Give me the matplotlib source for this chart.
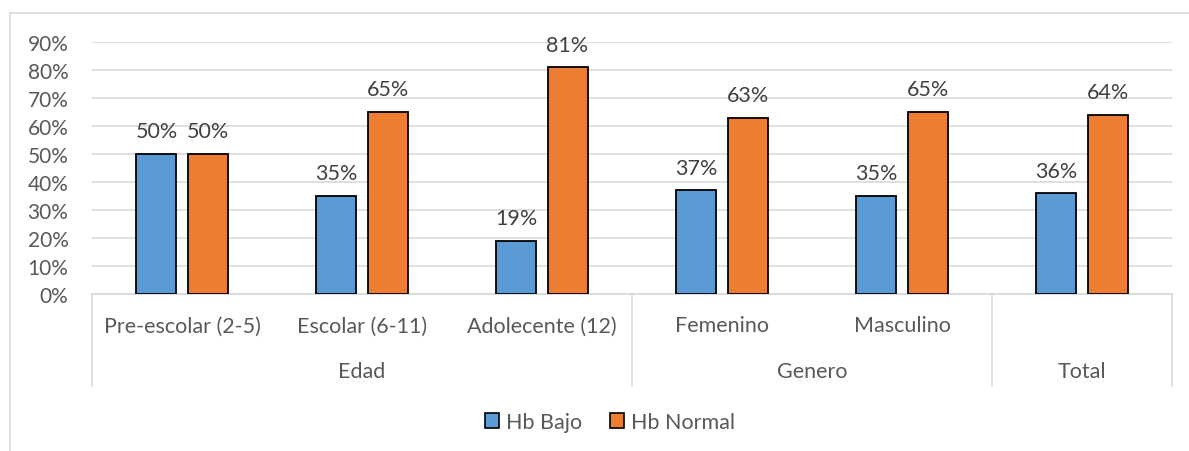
import numpy as np
import matplotlib.pyplot as plt
from matplotlib.lines import Line2D
from matplotlib.patches import Patch

plt.rcParams['font.family'] = ['Lato', 'DejaVu Sans']

categories = ['Pre-escolar (2-5)', 'Escolar (6-11)', 'Adolecente (12)',
              'Femenino', 'Masculino', '']
groups = ['Edad', 'Genero', 'Total']
group_sizes = [3, 2, 1]
hb_bajo = [0.50, 0.35, 0.19, 0.37, 0.35, 0.36]
hb_normal = [0.50, 0.65, 0.81, 0.63, 0.65, 0.64]
series_names = ['Hb Bajo', 'Hb Normal']

blue = '#5B9BD5'
orange = '#ED7D31'
grid_col = '#D9D9D9'
text_col = '#595959'
fs = 15.5

W, H = 1189, 452
fig = plt.figure(figsize=(W / 100, H / 100), dpi=100)
ax = fig.add_axes([92 / W, 157 / H, 1080 / W, 252 / H])

x = np.arange(len(categories))
bw = 0.222
off = 0.142
b1 = ax.bar(x - off, hb_bajo, bw, color=blue, edgecolor='black', linewidth=1.3, zorder=3)
b2 = ax.bar(x + off, hb_normal, bw, color=orange, edgecolor='black', linewidth=1.3, zorder=3)

for bars in (b1, b2):
    for r in bars:
        ax.annotate(f"{r.get_height() * 100:.0f}%",
                    (r.get_x() + r.get_width() / 2, r.get_height()),
                    xytext=(0, 9), textcoords='offset points',
                    ha='center', va='bottom', fontsize=fs, color='#404040')

ax.set_xlim(-0.5, len(categories) - 0.5)
ax.set_ylim(0, 0.9)
ax.set_yticks(np.arange(0, 0.91, 0.1))
ax.set_yticklabels([f"{v * 100:.0f}%" for v in np.arange(0, 0.91, 0.1)])
ax.tick_params(axis='y', length=0, labelsize=15, labelcolor=text_col, pad=17)
ax.set_xticks([])
ax.grid(axis='y', color=grid_col, linewidth=1.2, zorder=0)
for s in ['top', 'right', 'left']:
    ax.spines[s].set_visible(False)
ax.spines['bottom'].set_color(grid_col)
ax.spines['bottom'].set_linewidth(1.2)

# multi-level category axis
trans = ax.get_xaxis_transform()
for i, c in enumerate(categories):
    ax.text(i, -0.125, c, transform=trans, ha='center', va='center',
            fontsize=fs, color=text_col)
edges = np.concatenate([[0], np.cumsum(group_sizes)]) - 0.5
for e in edges:
    ax.add_line(Line2D([e, e], [0, -0.365], transform=trans, color=grid_col,
                       linewidth=1.2, clip_on=False))
for g, a, b in zip(groups, edges[:-1], edges[1:]):
    ax.text((a + b) / 2, -0.305, g, transform=trans, ha='center', va='center',
            fontsize=fs, color=text_col)

# outer chart frame
fig.add_artist(Line2D([10 / W, 10 / W], [0, 1 - 14 / H], color=grid_col, linewidth=1.2))
fig.add_artist(Line2D([10 / W, 1], [1 - 14 / H, 1 - 14 / H], color=grid_col, linewidth=1.2))

handles = [Patch(facecolor=blue, edgecolor='black', linewidth=1.2),
           Patch(facecolor=orange, edgecolor='black', linewidth=1.2)]
fig.legend(handles, series_names, loc='center', bbox_to_anchor=(610 / W, 1 - 423 / H),
           ncol=2, frameon=False, fontsize=fs, labelcolor=text_col,
           handlelength=0.65, handleheight=0.65, handletextpad=0.3, columnspacing=1.3)

fig.savefig('out.png', dpi=100)
